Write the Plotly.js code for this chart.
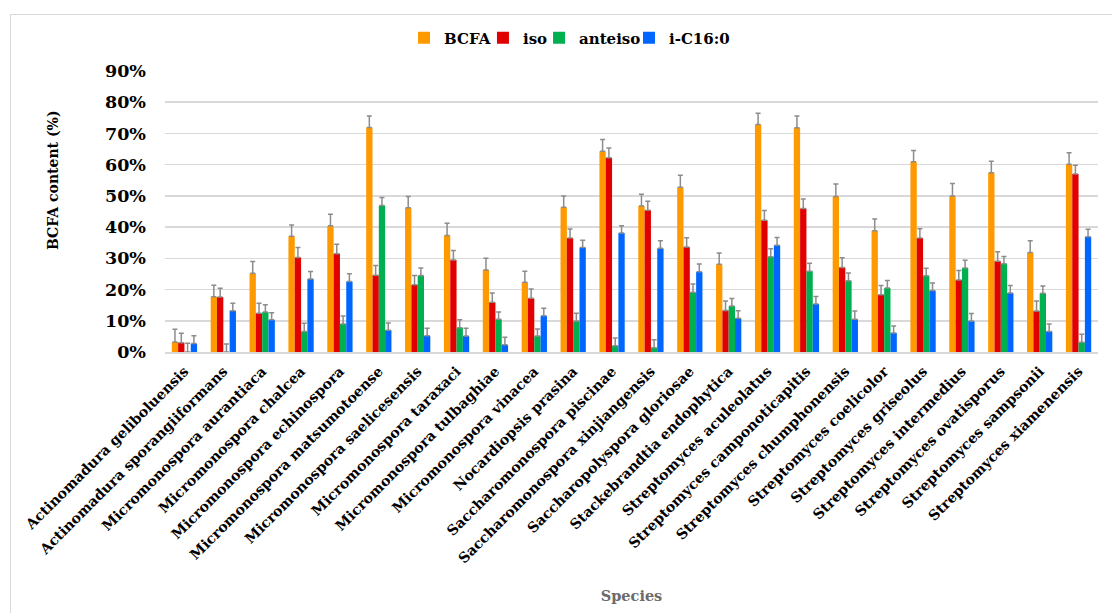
<!DOCTYPE html>
<html>
<head>
<meta charset="utf-8">
<script src="https://cdn.plot.ly/plotly-3.0.1.min.js"></script>
<style>
  html, body { margin: 0; padding: 0; background: #fff; overflow: hidden; }
  #frame { position: absolute; left: 10px; top: 14px; width: 1120px; height: 620px;
           border: 1.5px solid #d9d9d9; box-sizing: border-box; }
  #chart { position: absolute; left: 0; top: 0; width: 1112px; height: 613px; }
</style>
</head>
<body>
<div id="frame"></div>
<div id="chart"></div>
<script>
// Species on the x axis
const species = [
  "Actinomadura geliboluensis", "Actinomadura sporangiiformans", "Micromonospora aurantiaca",
  "Micromonospora chalcea", "Micromonospora echinospora", "Micromonospora matsumotoense",
  "Micromonospora saelicesensis", "Micromonospora taraxaci", "Micromonospora tulbaghiae",
  "Micromonospora vinacea", "Nocardiopsis prasina", "Saccharomonospora piscinae",
  "Saccharomonospora xinjiangensis", "Saccharopolyspora gloriosae", "Stackebrandtia endophytica",
  "Streptomyces aculeolatus", "Streptomyces camponoticapitis", "Streptomyces chumphonensis",
  "Streptomyces coelicolor", "Streptomyces griseolus", "Streptomyces intermedius",
  "Streptomyces ovatisporus", "Streptomyces sampsonii", "Streptomyces xiamenensis"
];

// Mean content (%) per fatty-acid group
const bcfa    = [3.2, 17.7, 25.2, 37.1, 40.4, 71.9, 46.2, 37.3, 26.3, 22.3, 46.4, 64.3,
                 46.8, 52.8, 28.1, 72.9, 71.8, 49.8, 38.8, 60.9, 50.0, 57.4, 31.9, 60.1];
const iso     = [3.0, 17.6, 12.4, 30.3, 31.5, 24.6, 21.5, 29.5, 15.9, 17.2, 36.5, 62.2,
                 45.4, 33.6, 13.3, 42.2, 46.0, 27.1, 18.3, 36.5, 23.1, 29.1, 13.1, 57.0];
const anteiso = [0.0, 0.0, 12.8, 6.6, 9.0, 46.9, 24.5, 7.8, 10.5, 5.1, 9.9, 2.0,
                 1.4, 19.1, 14.7, 30.5, 25.9, 22.8, 20.5, 24.4, 26.9, 28.3, 18.8, 3.1];
const iC16    = [2.7, 13.2, 10.3, 23.4, 22.6, 7.0, 5.2, 5.1, 2.3, 11.6, 33.5, 38.1,
                 33.2, 25.7, 10.8, 34.2, 15.4, 10.5, 6.1, 19.7, 9.9, 18.9, 6.6, 36.9];

// Standard deviations (%)
const bcfaSd    = [4.1, 3.7, 3.8, 3.6, 3.7, 3.7, 3.6, 3.9, 3.7, 3.6, 3.6, 3.8,
                   3.7, 3.8, 3.6, 3.6, 3.8, 4.0, 3.8, 3.6, 4.0, 3.7, 3.7, 3.7];
const isoSd     = [3.0, 2.8, 3.2, 3.2, 3.0, 3.1, 3.0, 3.0, 3.0, 3.0, 2.9, 3.1,
                   2.9, 3.0, 3.0, 3.1, 3.0, 3.1, 3.0, 3.0, 3.0, 3.0, 3.2, 2.8];
const anteisoSd = [2.8, 2.6, 2.3, 2.6, 2.5, 2.6, 2.4, 2.5, 2.3, 2.3, 2.5, 2.5,
                   2.5, 2.7, 2.4, 2.6, 2.5, 2.5, 2.4, 2.4, 2.5, 2.3, 2.3, 2.6];
const iC16Sd    = [2.5, 2.4, 2.3, 2.4, 2.5, 2.3, 2.4, 2.5, 2.4, 2.4, 2.3, 2.3,
                   2.4, 2.5, 2.4, 2.5, 2.4, 2.6, 2.2, 2.4, 2.4, 2.4, 2.4, 2.4];

const seriesNames  = ["BCFA", "iso", "anteiso", "i-C16:0"];
const seriesColors = ["#FF9900", "#E00000", "#00B050", "#0066FF"];
// One small legend per series, placed left to right along the top
const legendIds = ["legend", "legend2", "legend3", "legend4"];
const legendX   = [0.2562, 0.3408, 0.4009, 0.4973];

const serif = "DejaVu Serif, Liberation Serif, serif";

function barTrace(i, values, sd) {
  return {
    type: "bar", name: seriesNames[i], x: species, y: values,
    legend: legendIds[i],
    marker: { color: seriesColors[i] },
    error_y: { type: "data", array: sd, arrayminus: sd.map(() => 0), symmetric: false,
               color: "#8c8c8c", thickness: 1.5, width: 2.5 }
  };
}

const traces = [
  barTrace(0, bcfa, bcfaSd),
  barTrace(1, iso, isoSd),
  barTrace(2, anteiso, anteisoSd),
  barTrace(3, iC16, iC16Sd)
];

const layout = {
  width: 1112, height: 613,
  margin: { l: 165, r: 14, t: 71, b: 261 },
  paper_bgcolor: "rgba(0,0,0,0)", plot_bgcolor: "rgba(0,0,0,0)",
  barmode: "group", bargap: 0.35, bargroupgap: 0,
  showlegend: true,
  xaxis: {
    type: "category", tickangle: -45, showgrid: false,
    showline: true, linecolor: "#d9d9d9", linewidth: 1.5, ticks: "",
    ticklabelstandoff: 4,
    tickfont: { family: serif, size: 14.2, weight: "bold", color: "#000" },
    title: { text: "Species", standoff: 25,
             font: { family: serif, size: 14.5, weight: "bold", color: "#6b6b6b" } }
  },
  yaxis: {
    range: [0, 90], dtick: 10, ticksuffix: "%",
    showgrid: true, gridcolor: "#d9d9d9", gridwidth: 1.5, zeroline: false,
    ticks: "", ticklen: 0, ticklabelstandoff: 18,
    tickfont: { family: serif, size: 17.5, weight: "bold", color: "#000" }
  },
  annotations: [{
    // y-axis title, set a little above the axis midpoint
    text: "BCFA content (%)", textangle: -90, showarrow: false,
    xref: "paper", yref: "paper", x: -0.12, y: 0.612,
    xanchor: "center", yanchor: "middle",
    font: { family: serif, size: 14, weight: "bold", color: "#000" }
  }]
};

legendIds.forEach((id, i) => {
  layout[id] = {
    x: legendX[i], xanchor: "left", y: 1.117, yanchor: "middle",
    orientation: "h", itemwidth: 30, bgcolor: "rgba(0,0,0,0)",
    font: { family: serif, size: 15, weight: "bold", color: "#000" }
  };
});

Plotly.newPlot("chart", traces, layout, { displayModeBar: false, staticPlot: true });
</script>
</body>
</html>
